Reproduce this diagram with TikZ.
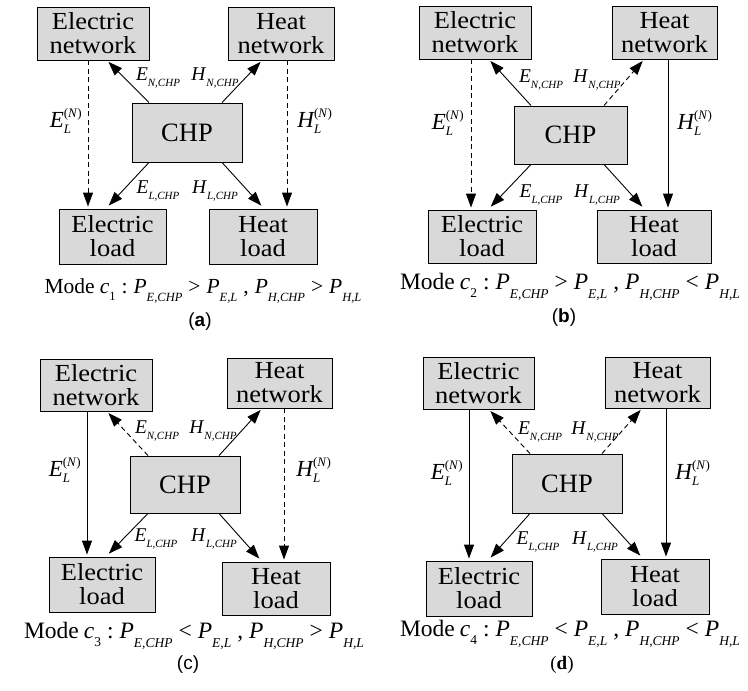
\documentclass[tikz,border=0pt]{standalone}
\usepackage{amsmath}
\usepackage{fontspec}
\setmainfont{Liberation Serif}
\setsansfont{Liberation Sans}
\newfontfamily\boxfam{Liberation Serif}[FakeStretch=1.08]
\usetikzlibrary{arrows.meta}
\definecolor{boxgray}{HTML}{D9D9D9}
\DeclareMathSizes{23}{23}{13}{9}
\newcommand{\boxfont}{\boxfam\fontsize{24.5}{24}\selectfont}
\newcommand{\chpfont}{\fontsize{26.5}{26.5}\selectfont}
\newcommand{\labfont}{\fontsize{19.5}{19.5}\selectfont}
\newcommand{\lablfont}{\fontsize{23}{23}\selectfont}
\newcommand{\tagfont}{\fontsize{19}{19}\selectfont}
\newcommand{\Lsub}[2]{\textit{#1}\raisebox{-6pt}{\fontsize{11}{11}\selectfont\textit{#2}}}
\newcommand{\Lnet}[1]{$\textit{#1}_{\textit{L}}^{\text{(\textit{N})}}$}
\newcommand{\Ps}[2]{\textit{P}\raisebox{-0.4em}{\fontsize{#2}{#2}\selectfont\textit{#1}}}
\newcommand{\gapsp}{\hspace{6pt}}
\newcommand{\modecap}[5]{\fontsize{#4}{#4}\selectfont Mode\hspace{5pt}\textit{c}\raisebox{-0.33em}{\fontsize{#5}{#5}\selectfont #1}\gapsp:\gapsp\Ps{E,CHP}{#5}\gapsp#2\gapsp\Ps{E,L}{#5}\gapsp,\gapsp\Ps{H,CHP}{#5}\gapsp#3\gapsp\Ps{H,L}{#5}}
\tikzset{
  box/.style={draw, fill=boxgray, line width=0.9pt, align=center, font=\boxfont, inner sep=0pt},
  chpbox/.style={box, font=\chpfont},
  arr/.style={-{Triangle[length=14pt,width=10pt]}, line width=0.9pt},
  dsh/.style={dash pattern=on 5pt off 3.5pt},
  lab/.style={font=\labfont, inner sep=0pt},
  labl/.style={font=\lablfont, inner sep=0pt},
  modecapstyle/.style={inner sep=0pt},
  tagstyle/.style={font=\tagfont, inner sep=0pt}
}
\begin{document}
\begin{tikzpicture}[x=1pt,y=-1pt]
\useasboundingbox (0,0) rectangle (748,691);
% ---------- panel (a)
\node[box, minimum width=112pt, minimum height=53pt] (ENa) at (93,33.5) {Electric\\network};
\node[box, minimum width=106pt, minimum height=53pt] (HNa) at (281,33.5) {Heat\\network};
\node[chpbox, minimum width=110pt, minimum height=59pt] (CHPa) at (187,132.5) {CHP};
\node[box, minimum width=107pt, minimum height=55pt] (ELa) at (112.5,236.5) {Electric\\load};
\node[box, minimum width=108pt, minimum height=55pt] (HLa) at (263,236.5) {Heat\\load};
\draw[arr,dsh,shorten >=2pt] (ENa.south -| 88,0) -- (ELa.north -| 88,0);
\draw[arr,dsh,shorten >=2pt] (HNa.south -| 287,0) -- (HLa.north -| 287,0);
\draw[arr,shorten >=2pt] (CHPa.north -| 149,0) -- (ENa.south -| 107,0);
\draw[arr,shorten >=2pt] (CHPa.north -| 222,0) -- (HNa.south -| 262,0);
\draw[arr,shorten >=4pt] (CHPa.south -| 149,0) -- (ELa.north -| 106,0);
\draw[arr,shorten >=4pt] (CHPa.south -| 222,0) -- (HLa.north -| 264,0);
\node[lab] (lENa) at (158,78) {\Lsub{E}{N,CHP}};
\node[lab] (lHNa) at (215,78) {\Lsub{H}{N,CHP}};
\node[lab] (lELa) at (158,190.5) {\Lsub{E}{L,CHP}};
\node[lab] (lHLa) at (215,190.5) {\Lsub{H}{L,CHP}};
\node[labl] (lEa) at (66,121) {\Lnet{E}};
\node[labl] (lHa) at (315,121) {\Lnet{H}};
\node[modecapstyle] (capa) at (203,291) {\modecap{1}{>}{>}{21.5}{12.5}};
\node[tagstyle] (taga) at (200,322) {\textsf{(\textbf{a})}};
% ---------- panel (b)
\node[box, minimum width=112pt, minimum height=53pt] (ENb) at (475,32.5) {Electric\\network};
\node[box, minimum width=105pt, minimum height=53pt] (HNb) at (664.5,32.5) {Heat\\network};
\node[chpbox, minimum width=113pt, minimum height=58pt] (CHPb) at (570.5,135) {CHP};
\node[box, minimum width=108pt, minimum height=53pt] (ELb) at (482,236.5) {Electric\\load};
\node[box, minimum width=114pt, minimum height=53pt] (HLb) at (654,236.5) {Heat\\load};
\draw[arr,dsh,shorten >=2pt] (ENb.south -| 471,0) -- (ELb.north -| 471,0);
\draw[arr,shorten >=2pt] (HNb.south -| 668,0) -- (HLb.north -| 668,0);
\draw[arr,shorten >=2pt] (CHPb.north -| 531,0) -- (ENb.south -| 489,0);
\draw[arr,dsh,shorten >=2pt] (CHPb.north -| 604,0) -- (HNb.south -| 644,0);
\draw[arr,shorten >=4pt] (CHPb.south -| 531,0) -- (ELb.north -| 488,0);
\draw[arr,shorten >=4pt] (CHPb.south -| 604,0) -- (HLb.north -| 645,0);
\node[lab] (lENb) at (541,80) {\Lsub{E}{N,CHP}};
\node[lab] (lHNb) at (597,80) {\Lsub{H}{N,CHP}};
\node[lab] (lELb) at (541,195) {\Lsub{E}{L,CHP}};
\node[lab] (lHLb) at (597,195) {\Lsub{H}{L,CHP}};
\node[labl] (lEb) at (448,123) {\Lnet{E}};
\node[labl] (lHb) at (695,123) {\Lnet{H}};
\node[modecapstyle] (capb) at (570,287) {\modecap{2}{>}{<}{23.5}{13.5}};
\node[tagstyle] (tagb) at (564,318) {\textsf{(\textbf{b})}};
% ---------- panel (c)
\node[box, minimum width=112pt, minimum height=52pt] (ENc) at (96,385) {Electric\\network};
\node[box, minimum width=105pt, minimum height=50pt] (HNc) at (279.5,383) {Heat\\network};
\node[chpbox, minimum width=110pt, minimum height=57pt] (CHPc) at (185,484.5) {CHP};
\node[box, minimum width=106pt, minimum height=55pt] (ELc) at (102,584.5) {Electric\\load};
\node[box, minimum width=108pt, minimum height=53pt] (HLc) at (276,588.5) {Heat\\load};
\draw[arr,shorten >=2pt] (ENc.south -| 87,0) -- (ELc.north -| 87,0);
\draw[arr,dsh,shorten >=2pt] (HNc.south -| 284,0) -- (HLc.north -| 284,0);
\draw[arr,dsh,shorten >=2pt] (CHPc.north -| 148,0) -- (ENc.south -| 107,0);
\draw[arr,shorten >=2pt] (CHPc.north -| 219,0) -- (HNc.south -| 262,0);
\draw[arr,shorten >=4pt] (CHPc.south -| 148,0) -- (ELc.north -| 106,0);
\draw[arr,shorten >=4pt] (CHPc.south -| 219,0) -- (HLc.north -| 262,0);
\node[lab] (lENc) at (157,431) {\Lsub{E}{N,CHP}};
\node[lab] (lHNc) at (213,431) {\Lsub{H}{N,CHP}};
\node[lab] (lELc) at (156,539) {\Lsub{E}{L,CHP}};
\node[lab] (lHLc) at (214,539) {\Lsub{H}{L,CHP}};
\node[labl] (lEc) at (65,470) {\Lnet{E}};
\node[labl] (lHc) at (314,470) {\Lnet{H}};
\node[modecapstyle] (capc) at (194,636) {\modecap{3}{<}{>}{23.5}{13.5}};
\node[tagstyle] (tagc) at (188,665) {\textsf{(c)}};
% ---------- panel (d)
\node[box, minimum width=111pt, minimum height=52pt] (ENd) at (478.5,383) {Electric\\network};
\node[box, minimum width=105pt, minimum height=51pt] (HNd) at (657.5,382.5) {Heat\\network};
\node[chpbox, minimum width=110pt, minimum height=59pt] (CHPd) at (567,483.5) {CHP};
\node[box, minimum width=106pt, minimum height=55pt] (ELd) at (479,588.5) {Electric\\load};
\node[box, minimum width=108pt, minimum height=55pt] (HLd) at (655,586.5) {Heat\\load};
\draw[arr,shorten >=2pt] (ENd.south -| 469,0) -- (ELd.north -| 469,0);
\draw[arr,shorten >=2pt] (HNd.south -| 666,0) -- (HLd.north -| 666,0);
\draw[arr,dsh,shorten >=2pt] (CHPd.north -| 530,0) -- (ENd.south -| 489,0);
\draw[arr,dsh,shorten >=2pt] (CHPd.north -| 602,0) -- (HNd.south -| 642,0);
\draw[arr,shorten >=4pt] (CHPd.south -| 530,0) -- (ELd.north -| 488,0);
\draw[arr,shorten >=4pt] (CHPd.south -| 602,0) -- (HLd.north -| 643,0);
\node[lab] (lENd) at (540,431.5) {\Lsub{E}{N,CHP}};
\node[lab] (lHNd) at (595,431.5) {\Lsub{H}{N,CHP}};
\node[lab] (lELd) at (538,542) {\Lsub{E}{L,CHP}};
\node[lab] (lHLd) at (595,542) {\Lsub{H}{L,CHP}};
\node[labl] (lEd) at (447,473) {\Lnet{E}};
\node[labl] (lHd) at (693,473) {\Lnet{H}};
\node[modecapstyle] (capd) at (570,634) {\modecap{4}{<}{<}{23.5}{13.5}};
\node[tagstyle] (tagd) at (562,665) {(\textbf{d})};
\end{tikzpicture}
\end{document}
